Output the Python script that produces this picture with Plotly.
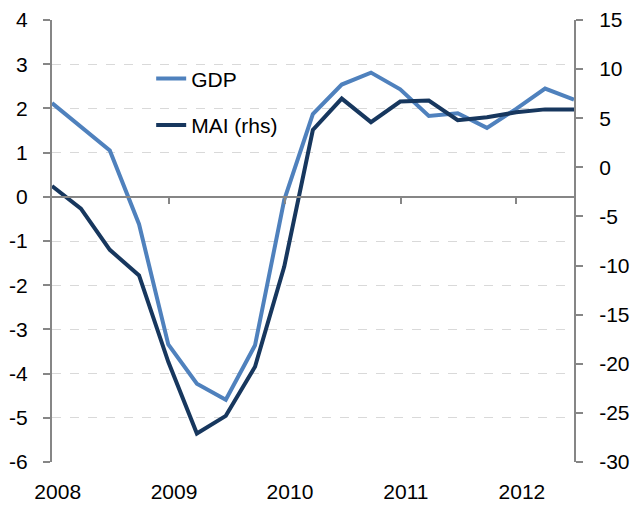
import plotly.graph_objects as go

quarters = ["2007-12-31", "2008-03-31", "2008-06-30", "2008-09-30", "2008-12-31",
            "2009-03-31", "2009-06-30", "2009-09-30", "2009-12-31",
            "2010-03-31", "2010-06-30", "2010-09-30", "2010-12-31",
            "2011-03-31", "2011-06-30", "2011-09-30", "2011-12-31",
            "2012-03-31", "2012-06-30"]
gdp = [2.12, 1.58, 1.05, -0.62, -3.34, -4.23, -4.59, -3.36, -0.07,
       1.87, 2.54, 2.81, 2.43, 1.83, 1.89, 1.56, 1.99, 2.45, 2.2]
mai = [-1.9, -4.2, -8.4, -11.0, -19.8, -27.1, -25.3, -20.3, -10.1,
       3.8, 7.0, 4.6, 6.7, 6.8, 4.8, 5.1, 5.6, 5.9, 5.9]
year_labels = ["2008", "2009", "2010", "2011", "2012"]
year_label_pos = ["2008-01-18", "2009-01-18", "2010-01-18", "2011-01-18", "2012-01-18"]
year_ticks = ["2009-01-01", "2010-01-01", "2011-01-01", "2012-01-01"]
left_ticks = list(range(-6, 5))
right_ticks = list(range(-30, 20, 5))

xrange = ["2007-12-31", "2012-06-30"]
axis_col = "#868686"
font = dict(family="Liberation Sans, Arial, sans-serif", size=21, color="black")

fig = go.Figure()
fig.add_trace(go.Scatter(x=quarters, y=gdp, name="GDP", mode="lines",
                         line=dict(color="#4F81BD", width=4), legendgroup="a"))
fig.add_trace(go.Scatter(x=quarters, y=mai, name="MAI (rhs)", mode="lines",
                         line=dict(color="#17375E", width=4), yaxis="y2", legendgroup="b"))
fig.add_trace(go.Scatter(x=[quarters[0]], y=[None], xaxis="x2", showlegend=False,
                         hoverinfo="skip"))

fig.update_layout(
    width=636, height=498,
    margin=dict(l=44, r=70, t=12, b=44),
    paper_bgcolor="white", plot_bgcolor="white",
    font=font,
    showlegend=True,
    legend=dict(x=0.19, y=0.913, xanchor="left", yanchor="top",
                bgcolor="rgba(0,0,0,0)", font=dict(size=21),
                tracegroupgap=16, itemwidth=30),
    xaxis=dict(type="date", range=xrange, tickvals=year_label_pos, ticktext=year_labels,
               ticks="", showgrid=False, zeroline=False, showline=False,
               ticklabelstandoff=15, automargin=False, ticklabeloverflow="allow"),
    xaxis2=dict(type="date", range=xrange, overlaying="x", anchor="free", position=0.6,
                tickvals=year_ticks, showticklabels=False, ticks="outside", ticklen=6,
                tickwidth=1.5, tickcolor=axis_col, showline=True, linecolor=axis_col,
                linewidth=2, showgrid=False, zeroline=False, automargin=False),
    yaxis=dict(range=[-6, 4], tickvals=left_ticks, ticktext=[str(v) for v in left_ticks],
               showgrid=True, gridcolor="#D9D9D9", griddash="dash", gridwidth=1,
               zeroline=False, showline=True, linecolor=axis_col, linewidth=2,
               ticks="outside", ticklen=7, tickcolor=axis_col, tickwidth=1.5,
               ticklabelstandoff=11, automargin=False, ticklabeloverflow="allow"),
    yaxis2=dict(range=[-30, 15], tickvals=right_ticks, ticktext=[str(v) for v in right_ticks],
                overlaying="y", side="right", showgrid=False, zeroline=False, showline=True,
                linecolor=axis_col, linewidth=2, ticks="outside", ticklen=7,
                tickcolor=axis_col, tickwidth=1.5, ticklabelstandoff=12, automargin=False,
                ticklabeloverflow="allow"),
)

fig.write_html("out.html")
